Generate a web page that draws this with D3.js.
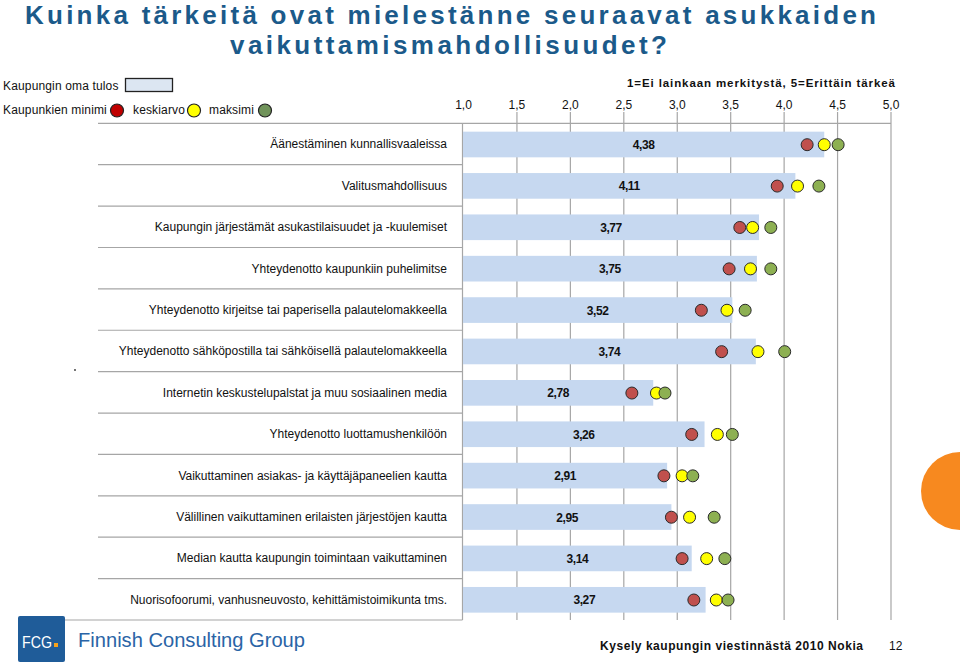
<!DOCTYPE html>
<html><head><meta charset="utf-8">
<script src="https://cdn.jsdelivr.net/npm/d3@7"></script>
<style>
body{margin:0;background:#fff;}
svg{display:block;font-family:"Liberation Sans",Arial,sans-serif;}
</style></head>
<body>
<svg id="c" width="960" height="665"></svg>
<script>
const categories = [
  "Äänestäminen kunnallisvaaleissa",
  "Valitusmahdollisuus",
  "Kaupungin järjestämät asukastilaisuudet ja -kuulemiset",
  "Yhteydenotto kaupunkiin puhelimitse",
  "Yhteydenotto kirjeitse tai paperisella palautelomakkeella",
  "Yhteydenotto sähköpostilla tai sähköisellä palautelomakkeella",
  "Internetin keskustelupalstat ja muu sosiaalinen media",
  "Yhteydenotto luottamushenkilöön",
  "Vaikuttaminen asiakas- ja käyttäjäpaneelien kautta",
  "Välillinen vaikuttaminen erilaisten järjestöjen kautta",
  "Median kautta kaupungin toimintaan vaikuttaminen",
  "Nuorisofoorumi, vanhusneuvosto, kehittämistoimikunta tms."
];
const ownResult = [4.38, 4.11, 3.77, 3.75, 3.52, 3.74, 2.78, 3.26, 2.91, 2.95, 3.14, 3.27];
const cityMin   = [4.22, 3.94, 3.59, 3.49, 3.23, 3.42, 2.58, 3.14, 2.88, 2.95, 3.05, 3.16];
const cityMean  = [4.38, 4.13, 3.71, 3.69, 3.47, 3.76, 2.81, 3.38, 3.05, 3.12, 3.28, 3.37];
const cityMax   = [4.51, 4.33, 3.88, 3.88, 3.64, 4.01, 2.89, 3.52, 3.15, 3.35, 3.45, 3.48];
const tickValues = [1, 1.5, 2, 2.5, 3, 3.5, 4, 4.5, 5];
const tickLabels = ["1,0", "1,5", "2,0", "2,5", "3,0", "3,5", "4,0", "4,5", "5,0"];
const fmt = v => v.toFixed(2).replace(".", ",");

const svg = d3.select("#c");
const x = d3.scaleLinear().domain([1, 5]).range([463, 890.5]);
const rows = d3.scaleBand().domain(categories).range([123.3, 620]).padding(0);
const barH = rows.bandwidth() * 0.62;

const BLUE_T = "#1b5a8a";
// Title
svg.append("text").attr("x", 25).attr("y", 24).attr("textLength", 851).attr("lengthAdjust", "spacing")
  .attr("font-size", 26).attr("font-weight", "bold").attr("fill", BLUE_T)
  .text("Kuinka tärkeitä ovat mielestänne seuraavat asukkaiden");
svg.append("text").attr("x", 230).attr("y", 54).attr("textLength", 437).attr("lengthAdjust", "spacing")
  .attr("font-size", 26).attr("font-weight", "bold").attr("fill", BLUE_T)
  .text("vaikuttamismahdollisuudet?");

// Legend
svg.append("text").attr("x", 3).attr("y", 90).attr("font-size", 12).attr("letter-spacing", 0.15).attr("fill", "#111")
  .text("Kaupungin oma tulos");
svg.append("rect").attr("x", 125.5).attr("y", 78.5).attr("width", 47).attr("height", 13)
  .attr("fill", "#dce6f2").attr("stroke", "#222").attr("stroke-width", 1.3);
svg.append("text").attr("x", 3).attr("y", 114).attr("font-size", 12).attr("letter-spacing", 0.15).attr("fill", "#111")
  .text("Kaupunkien minimi");
svg.append("text").attr("x", 133).attr("y", 114).attr("font-size", 12).attr("letter-spacing", 0.15).attr("fill", "#111")
  .text("keskiarvo");
svg.append("text").attr("x", 209).attr("y", 114).attr("font-size", 12).attr("letter-spacing", 0.15).attr("fill", "#111")
  .text("maksimi");
const legC = [[117, "#c00000"], [194, "#ffff00"], [265, "#70935a"]];
legC.forEach(([cx, col]) => svg.append("circle").attr("cx", cx).attr("cy", 110.5).attr("r", 6.5)
  .attr("fill", col).attr("stroke", "#222").attr("stroke-width", 1.2));

svg.append("text").attr("x", 627).attr("y", 87).attr("textLength", 268).attr("lengthAdjust", "spacing")
  .attr("font-size", 11.5).attr("font-weight", "bold").attr("fill", "#111")
  .text("1=Ei lainkaan merkitystä, 5=Erittäin tärkeä");

// Axis labels
const ax = svg.append("g").attr("transform", "translate(0,112)")
  .call(d3.axisTop(x).tickValues(tickValues).tickFormat((d, i) => tickLabels[i]).tickSize(0).tickPadding(3));
ax.select(".domain").remove();
ax.selectAll("text").attr("font-size", 12).attr("font-family", "Liberation Sans, Arial, sans-serif").attr("fill", "#111");

// Gridlines
const grid = svg.append("g").attr("transform", "translate(0,112)")
  .call(d3.axisBottom(x).tickValues(tickValues.slice(1)).tickSize(620 - 112).tickFormat(""));
grid.select(".domain").remove();
grid.selectAll("line").attr("stroke", "#a6a6a6").attr("stroke-width", 1.2);

// Label panel
const [y0, y1] = rows.range();
svg.append("line").attr("x1", 98).attr("x2", 891).attr("y1", y0).attr("y2", y0).attr("stroke", "#a6a6a6").attr("stroke-width", 1.2);
categories.forEach((c, i) => {
  const yb = rows(c) + rows.bandwidth();
  svg.append("line").attr("x1", i === categories.length - 1 ? 65 : 98).attr("x2", 462.5)
    .attr("y1", yb).attr("y2", yb).attr("stroke", "#a6a6a6").attr("stroke-width", 1.2);
});
svg.append("line").attr("x1", 462.5).attr("x2", 462.5).attr("y1", y0).attr("y2", y1).attr("stroke", "#a6a6a6").attr("stroke-width", 1.2);

svg.append("g").selectAll("text").data(categories).join("text")
  .attr("x", 447).attr("y", d => rows(d) + rows.bandwidth() / 2 + 4.5)
  .attr("text-anchor", "end").attr("font-size", 12).attr("fill", "#111").text(d => d);

// Bars
svg.append("g").selectAll("rect").data(ownResult).join("rect")
  .attr("x", x(1)).attr("width", d => x(d) - x(1))
  .attr("y", (d, i) => rows(categories[i]) + (rows.bandwidth() - barH) / 2 + 0.5)
  .attr("height", barH).attr("fill", "#c6d8f0");

svg.append("g").selectAll("text").data(ownResult).join("text")
  .attr("x", d => (x(1) + x(d)) / 2).attr("y", (d, i) => rows(categories[i]) + rows.bandwidth() / 2 + 5)
  .attr("text-anchor", "middle").attr("font-size", 12).attr("font-weight", "bold")
  .attr("letter-spacing", -0.4).attr("fill", "#111").text(d => fmt(d));

// Markers
const series = [[cityMin, "#c0504d"], [cityMean, "#ffff00"], [cityMax, "#8db052"]];
series.forEach(([vals, col]) => {
  svg.append("g").selectAll("circle").data(vals).join("circle")
    .attr("cx", d => x(d)).attr("cy", (d, i) => rows(categories[i]) + rows.bandwidth() / 2 + 0.7)
    .attr("r", 6).attr("fill", col).attr("stroke", "#2a2a2a").attr("stroke-width", 1);
});

// stray dot
svg.append("circle").attr("cx", 75).attr("cy", 370).attr("r", 0.9).attr("fill", "#333");

// Orange half-circle
svg.append("path").attr("d", d3.arc()({innerRadius: 0, outerRadius: 39, startAngle: Math.PI, endAngle: 2 * Math.PI}))
  .attr("transform", "translate(960,491)").attr("fill", "#f7891f");

// Footer logo
svg.append("rect").attr("x", 18).attr("y", 616).attr("width", 47).attr("height", 46).attr("rx", 2).attr("fill", "#1f5c99");
svg.append("text").attr("x", 22).attr("y", 648).attr("font-size", 17).attr("fill", "#fff")
  .attr("textLength", 30).attr("lengthAdjust", "spacingAndGlyphs").text("FCG");
svg.append("rect").attr("x", 54).attr("y", 643).attr("width", 4).attr("height", 4).attr("fill", "#f7a21b");
svg.append("text").attr("x", 78).attr("y", 647).attr("font-size", 21).attr("fill", "#2a64a6")
  .attr("textLength", 227).attr("lengthAdjust", "spacingAndGlyphs").text("Finnish Consulting Group");
svg.append("text").attr("x", 600).attr("y", 650).attr("font-size", 12).attr("font-weight", "bold").attr("fill", "#111")
  .attr("textLength", 263).attr("lengthAdjust", "spacing").text("Kysely kaupungin viestinnästä 2010 Nokia");
svg.append("text").attr("x", 889).attr("y", 650).attr("font-size", 12).attr("fill", "#111").text("12");
</script>
</body></html>
